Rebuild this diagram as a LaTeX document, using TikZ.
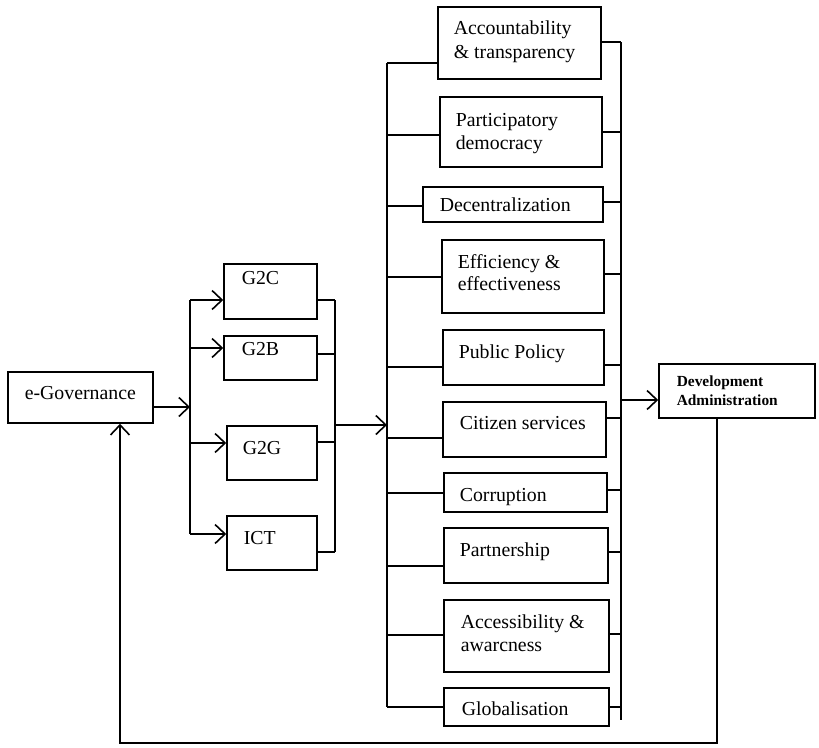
\documentclass[tikz,border=0pt]{standalone}
\usepackage{fontspec}
\setmainfont{Liberation Serif}
\usetikzlibrary{arrows.meta,fit}
\begin{document}
\begin{tikzpicture}[x=1pt,y=-1pt,line width=1.6pt,
  box/.style={draw,rectangle,inner sep=0pt},
  lbl/.style={anchor=base west,inner sep=0pt,font=\fontsize{19.8}{23}\selectfont},
  small/.style={anchor=base west,inner sep=0pt,font=\bfseries\fontsize{15.4}{18}\selectfont},
  arr/.style={-{Straight Barb[length=10pt,width=19pt,line width=1.6pt]}}]
\useasboundingbox (0,0) rectangle (819,747);

% ---- boxes ----
\node[box,fit={(8,372) (153,423)}] (egov) {};
\node[box,fit={(224,264) (317,319)}] (g2c) {};
\node[box,fit={(224,336) (317,380)}] (g2b) {};
\node[box,fit={(227,426) (317,480)}] (g2g) {};
\node[box,fit={(227,516) (317,570)}] (ict) {};

\node[box,fit={(438,7) (601,79)}] (acc) {};
\node[box,fit={(440,97) (602,167)}] (par) {};
\node[box,fit={(423,187) (603,222)}] (dec) {};
\node[box,fit={(442,240) (604,313)}] (eff) {};
\node[box,fit={(443,330) (604,385)}] (pub) {};
\node[box,fit={(443,402) (606,457)}] (cit) {};
\node[box,fit={(444,473) (607,512)}] (cor) {};
\node[box,fit={(444,528) (608,583)}] (prt) {};
\node[box,fit={(444,600) (609,672)}] (acs) {};
\node[box,fit={(444,688) (609,726)}] (glo) {};

\node[box,fit={(659,364) (815,418)}] (dev) {};

% ---- texts ----
\node[lbl] (t-egov) at (24,399) {e-Governance};
\node[lbl] (t-g2c) at (241,284) {G2C};
\node[lbl] (t-g2b) at (241,355) {G2B};
\node[lbl] (t-g2g) at (242,454) {G2G};
\node[lbl] (t-ict) at (243,544) {ICT};

\node[lbl] (t-acc1) at (453,34) {Accountability};
\node[lbl] (t-acc2) at (453,58) {\& transparency};
\node[lbl] (t-par1) at (455,126) {Participatory};
\node[lbl] (t-par2) at (455,149) {democracy};
\node[lbl] (t-dec) at (439,211) {Decentralization};
\node[lbl] (t-eff1) at (457,268) {Efficiency \&};
\node[lbl] (t-eff2) at (457,290) {effectiveness};
\node[lbl] (t-pub) at (458,358) {Public Policy};
\node[lbl] (t-cit) at (459,429) {Citizen services};
\node[lbl] (t-cor) at (459,501) {Corruption};
\node[lbl] (t-prt) at (459,556) {Partnership};
\node[lbl] (t-acs1) at (460,628) {Accessibility \&};
\node[lbl] (t-acs2) at (460,651) {awarcness};
\node[lbl] (t-glo) at (461,715) {Globalisation};

\node[small] (t-dev1) at (676,386) {Development};
\node[small] (t-dev2) at (676,405) {Administration};

% ---- bus coordinates ----
\coordinate (la) at (190,300);
\coordinate (lb) at (190,534);
\coordinate (ra) at (335,300);
\coordinate (rb) at (335,552);
\coordinate (ma) at (387,63);
\coordinate (mb) at (387,707);
\coordinate (na) at (621,42);
\coordinate (nb) at (621,720);
\coordinate (fb1) at (717,743);
\coordinate (fb2) at (120,743);

% e-Gov to first bus
\draw[arr] (egov.east |- 0,407) -- (la |- 0,407);
\draw (la) -- (lb);
\draw[arr] (la) -- (g2c.west |- la);
\draw[arr] (la |- 0,348) -- (g2b.west |- 0,348);
\draw[arr] (la |- 0,443) -- (g2g.west |- 0,443);
\draw[arr] (lb) -- (ict.west |- lb);

% G boxes to second bus
\draw (ra) -- (rb);
\draw (g2c.east |- ra) -- (ra);
\draw (g2b.east |- 0,354) -- (ra |- 0,354);
\draw (g2g.east |- 0,442) -- (ra |- 0,442);
\draw (ict.east |- rb) -- (rb);
\draw[arr] (ra |- 0,425) -- (ma |- 0,425);

% main left bus
\draw (ma) -- (mb);
\draw (ma) -- (acc.west |- ma);
\draw (ma |- 0,135) -- (par.west |- 0,135);
\draw (ma |- 0,206) -- (dec.west |- 0,206);
\draw (ma |- 0,277) -- (eff.west |- 0,277);
\draw (ma |- 0,367) -- (pub.west |- 0,367);
\draw (ma |- 0,438) -- (cit.west |- 0,438);
\draw (ma |- 0,493) -- (cor.west |- 0,493);
\draw (ma |- 0,566) -- (prt.west |- 0,566);
\draw (ma |- 0,635) -- (acs.west |- 0,635);
\draw (mb) -- (glo.west |- mb);

% main right bus
\draw (na) -- (nb);
\draw (acc.east |- na) -- (na);
\draw (par.east |- 0,132) -- (na |- 0,132);
\draw (dec.east |- 0,202) -- (na |- 0,202);
\draw (eff.east |- 0,274) -- (na |- 0,274);
\draw (pub.east |- 0,365) -- (na |- 0,365);
\draw (cit.east |- 0,418) -- (na |- 0,418);
\draw (cor.east |- 0,490) -- (na |- 0,490);
\draw (prt.east |- 0,552) -- (na |- 0,552);
\draw (acs.east |- 0,634) -- (na |- 0,634);
\draw (glo.east |- 0,707) -- (na |- 0,707);
\draw[arr] (na |- 0,400) -- (dev.west |- 0,400);

% feedback
\draw[arr] (dev.south -| fb1) -- (fb1) -- (fb2) -- (egov.south -| fb2);
\end{tikzpicture}
\end{document}
